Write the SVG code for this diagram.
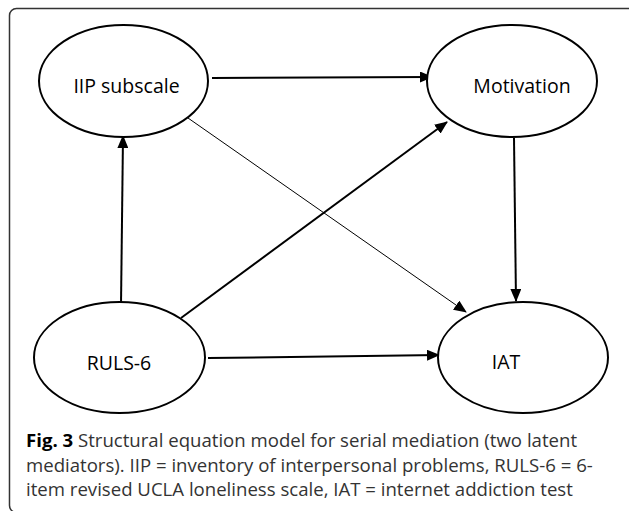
<svg xmlns="http://www.w3.org/2000/svg" width="629" height="511" viewBox="0 0 629 511">
<defs>
<style>
.node ellipse{fill:#fff;stroke:#000;stroke-width:2}
.node text{font-family:"Open Sans","Noto Sans",sans-serif;font-size:19.5px;fill:#000;text-anchor:middle}
.edge{stroke:#000;fill:none;stroke-width:2;marker-end:url(#ah)}
.thin{stroke-width:1}
.cap{font-family:"Open Sans","Noto Sans",sans-serif;font-size:18.6px;fill:#333}
</style>
<marker id="ah" markerUnits="userSpaceOnUse" markerWidth="13" markerHeight="11" viewBox="0 0 13 11" refX="12" refY="5.5" orient="auto">
<path d="M0,0 L13,5.5 L0,11 z" fill="#000"/>
</marker>
</defs>
<rect x="9.5" y="8.5" width="626" height="504" rx="7" fill="none" stroke="#333" stroke-width="1.5"/>
<g id="connectors">
<line class="edge" x1="212" y1="78" x2="432" y2="77"/>
<line class="edge" x1="121" y1="305" x2="123" y2="136"/>
<line class="edge" x1="181" y1="318" x2="447" y2="122"/>
<line class="edge thin" x1="188" y1="118" x2="466" y2="312"/>
<line class="edge" x1="514" y1="138" x2="516" y2="301"/>
<line class="edge" x1="208" y1="358" x2="439" y2="355"/>
</g>
<g id="iip" class="node"><ellipse cx="123.5" cy="81" rx="84.5" ry="56"/><text x="126.5" y="93">IIP subscale</text></g>
<g id="motivation" class="node"><ellipse cx="512" cy="81" rx="85" ry="56"/><text x="522" y="93">Motivation</text></g>
<g id="ruls6" class="node"><ellipse cx="119.5" cy="357.5" rx="85.5" ry="55.5"/><text x="119" y="370">RULS-6</text></g>
<g id="iat" class="node"><ellipse cx="523" cy="357.5" rx="85" ry="55.5"/><text x="506" y="369">IAT</text></g>
<g id="caption">
<text class="cap" x="26" y="447"><tspan font-weight="bold" fill="#000">Fig. 3</tspan> Structural equation model for serial mediation (two latent</text>
<text class="cap" x="26" y="472">mediators). IIP = inventory of interpersonal problems, RULS-6 = 6-</text>
<text class="cap" x="26" y="496">item revised UCLA loneliness scale, IAT = internet addiction test</text>
</g>
</svg>
